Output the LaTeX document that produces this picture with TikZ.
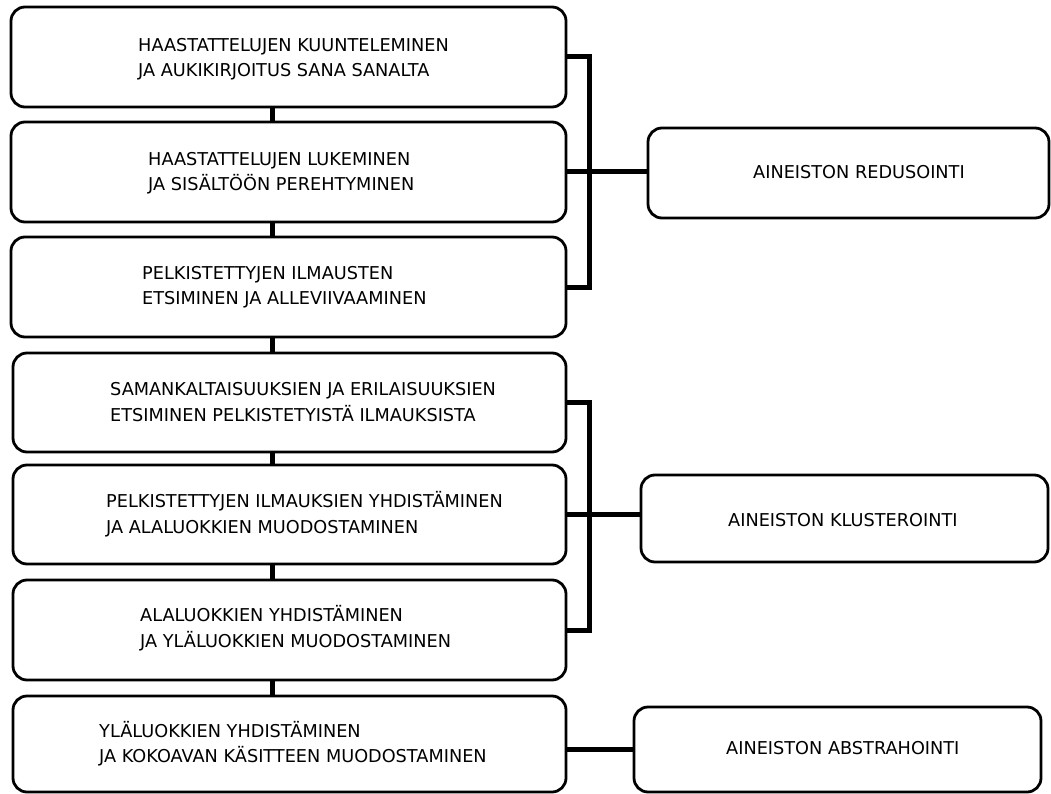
\documentclass[tikz,border=0pt]{standalone}
\usepackage{fontspec}
\setmainfont{DejaVu Sans}
\begin{document}
\begin{tikzpicture}[x=1pt,y=-1pt,
  box/.style={draw, line width=2.8pt, rounded corners=14pt, inner sep=0pt},
  lbl/.style={anchor=base west, inner sep=0pt, font=\fontsize{17.7}{25}\selectfont},
  link/.style={line width=5pt}]
\useasboundingbox (0,0) rectangle (1051,794);
% left column boxes
\node[box, minimum width=555pt, minimum height=100pt] (B1) at (288.5,57) {};
\node[box, minimum width=555pt, minimum height=100pt] (B2) at (288.5,172) {};
\node[box, minimum width=555pt, minimum height=100pt] (B3) at (288.5,287) {};
\node[box, minimum width=553pt, minimum height=99pt] (B4) at (289.5,402.5) {};
\node[box, minimum width=553pt, minimum height=99pt] (B5) at (289.5,514.5) {};
\node[box, minimum width=553pt, minimum height=100pt] (B6) at (289.5,630) {};
\node[box, minimum width=553pt, minimum height=96pt] (B7) at (289.5,744) {};
% right boxes
\node[box, minimum width=401pt, minimum height=90pt] (R1) at (848.5,173) {};
\node[box, minimum width=407pt, minimum height=87pt] (R2) at (844.5,518.5) {};
\node[box, minimum width=407pt, minimum height=85pt] (R3) at (837.5,749.5) {};
% texts
\node[lbl] (t1a) at (138,51.6) {HAASTATTELUJEN KUUNTELEMINEN};
\node[lbl] (t1b) at (138,76.6) {JA AUKIKIRJOITUS SANA SANALTA};
\node[lbl] (t2a) at (148,165.6) {HAASTATTELUJEN LUKEMINEN};
\node[lbl] (t2b) at (148,190.6) {JA SISÄLTÖÖN PEREHTYMINEN};
\node[lbl] (t3a) at (142,279.6) {PELKISTETTYJEN ILMAUSTEN};
\node[lbl] (t3b) at (142,304.6) {ETSIMINEN JA ALLEVIIVAAMINEN};
\node[lbl] (t4a) at (110,395.1) {SAMANKALTAISUUKSIEN JA ERILAISUUKSIEN};
\node[lbl] (t4b) at (110,421.1) {ETSIMINEN PELKISTETYISTÄ ILMAUKSISTA};
\node[lbl] (t5a) at (106,507.6) {PELKISTETTYJEN ILMAUKSIEN YHDISTÄMINEN};
\node[lbl] (t5b) at (106,533.6) {JA ALALUOKKIEN MUODOSTAMINEN};
\node[lbl] (t6a) at (140,621.1) {ALALUOKKIEN YHDISTÄMINEN};
\node[lbl] (t6b) at (140,647.1) {JA YLÄLUOKKIEN MUODOSTAMINEN};
\node[lbl] (t7a) at (99,737.6) {YLÄLUOKKIEN YHDISTÄMINEN};
\node[lbl] (t7b) at (99,762.6) {JA KOKOAVAN KÄSITTEEN MUODOSTAMINEN};
\node[lbl] (r1t) at (753,178.6) {AINEISTON REDUSOINTI};
\node[lbl] (r2t) at (728,526.6) {AINEISTON KLUSTEROINTI};
\node[lbl] (r3t) at (726,754.6) {AINEISTON ABSTRAHOINTI};
% vertical chain
\coordinate (cx) at (272,0);
\draw[link] (B1.south -| cx) -- (B2.north -| cx);
\draw[link] (B2.south -| cx) -- (B3.north -| cx);
\draw[link] (B3.south -| cx) -- (B4.north -| cx);
\draw[link] (B4.south -| cx) -- (B5.north -| cx);
\draw[link] (B5.south -| cx) -- (B6.north -| cx);
\draw[link] (B6.south -| cx) -- (B7.north -| cx);
% brackets
\coordinate (kx) at (589,0);
\draw[link] (B1.east) -| (kx |- B3.east) -- (B3.east);
\draw[link] (B2.east) -- (B2.east -| R1.west);
\draw[link] (B4.east) -| (kx |- B6.east) -- (B6.east);
\draw[link] (B5.east) -- (B5.east -| R2.west);
\draw[link] (B7.east |- R3.west) -- (R3.west);
\end{tikzpicture}
\end{document}
